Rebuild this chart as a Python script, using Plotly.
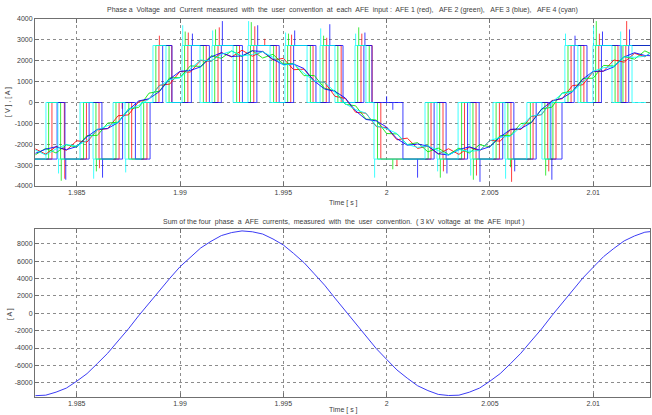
import plotly.graph_objects as go

T0 = 1.98  # all time lists below are milliseconds after 1.98 s

# ---------------- voltage switching instants (ms after 1.98 s) ----------------
afe1_edges_ms = [3.80, 4.40, 5.47, 6.08, 7.05, 7.66, 8.40, 8.98, 9.60, 10.38, 11.27, 11.84,
                 12.88, 13.57, 14.66, 15.36, 16.44, 17.08, 17.80, 18.76, 19.30, 19.72, 22.15,
                 22.73, 23.77, 24.33, 25.46, 26.02, 27.09, 27.80, 28.20, 28.93, 29.55, 30.27,
                 31.20, 31.58]
afe2_edges_ms = [3.64, 4.22, 5.33, 5.93, 6.90, 7.52, 8.24, 8.83, 9.47, 10.22, 11.13, 11.68,
                 12.74, 13.41, 14.53, 15.21, 16.31, 16.92, 17.64, 18.60, 19.16, 19.56, 22.01,
                 22.57, 23.63, 24.18, 25.30, 25.87, 26.96, 27.66, 28.05, 28.78, 29.40, 30.12,
                 31.06, 31.44]
afe3_edges_ms = [4.05, 4.43, 5.60, 6.22, 7.22, 7.84, 8.55, 9.16, 9.61, 10.55, 11.42, 12.00,
                 13.02, 13.72, 14.80, 15.50, 16.58, 17.22, 17.89, 18.90, 19.29, 20.79, 22.30,
                 22.88, 23.92, 24.48, 25.62, 26.16, 27.24, 27.95, 28.49, 29.08, 29.70, 30.40,
                 31.35, 31.72]
afe4_edges_ms = [3.51, 4.09, 5.16, 5.79, 6.76, 7.34, 8.11, 8.69, 9.32, 10.10, 10.97, 11.55,
                 12.57, 13.29, 14.36, 15.08, 16.15, 16.78, 17.50, 18.47, 19.00, 19.39, 21.86,
                 22.44, 23.46, 24.04, 25.15, 25.73, 26.79, 27.52, 27.91, 28.63, 29.26, 29.99,
                 30.91, 31.30, 31.88]

V_POS = 2730
V_NEG = -2710
voltage_start_level = V_NEG
level_after_edge = [0, V_NEG, 0, V_NEG, 0, V_NEG, 0, V_POS, 0, V_POS, 0, V_POS, 0, V_POS,
                    0, V_POS, 0, V_POS, 0, V_POS, 0, V_NEG, 0, V_NEG, 0, V_NEG, 0, V_NEG,
                    0, V_NEG, 0, V_POS, 0, V_POS, 0, V_POS, 0]

# switching spikes (ms, peak value)
afe1_spike_ms = [4.42, 6.10, 7.20, 9.00, 10.40, 11.90, 13.62, 14.10, 15.40, 17.10, 18.80,
                 20.50, 22.75, 24.35, 26.05, 27.85, 30.30, 31.62]
afe1_spike_v = [-3650, -3150, -300, 3200, 3350, 3600, 3650, 3050, 3250, 3100, 3300,
                -3050, -3300, -3500, -3800, -3300, 3300, 3900]
afe2_spike_ms = [4.25, 5.95, 10.25, 11.72, 13.45, 15.25, 16.95, 18.65, 20.30, 22.60, 24.20,
                 26.00, 27.70, 30.15]
afe2_spike_v = [-3750, -3300, 3400, 3500, 3850, 3300, 3200, 3600, -3200, -3600, -3700,
                -3100, -3500, 3900]
afe3_spike_ms = [4.47, 6.25, 10.60, 12.05, 13.76, 15.55, 17.25, 18.95, 20.00, 20.30, 21.50,
                 22.92, 24.52, 26.20, 28.00, 29.12, 30.45, 31.76]
afe3_spike_v = [-3700, -3600, 3300, 3900, 3700, 3450, 3750, 3350, 300, -350, -3600,
                -3400, -3800, -3300, -3700, 3200, 3400, 3500]
afe4_spike_ms = [4.12, 5.82, 7.37, 10.13, 11.58, 13.32, 15.11, 16.81, 18.50, 19.42, 22.47,
                 24.07, 25.76, 28.66, 30.02, 31.33]
afe4_spike_v = [-3400, -3650, -3350, 3700, 3450, 3900, 3350, 3550, 3300, -3600, -3300,
                -3500, -3650, 3300, 3650, 3400]

# ---------------- phase currents (sampled every 0.5 ms) ----------------
current_t_ms = [3.0, 3.5, 4.0, 4.5, 5.0, 5.5, 6.0, 6.5, 7.0, 7.5, 8.0, 8.5, 9.0, 9.5, 10.0,
                10.5, 11.0, 11.5, 12.0, 12.5, 13.0, 13.5, 14.0, 14.5, 15.0, 15.5, 16.0, 16.5,
                17.0, 17.5, 18.0, 18.5, 19.0, 19.5, 20.0, 20.5, 21.0, 21.5, 22.0, 22.5, 23.0,
                23.5, 24.0, 24.5, 25.0, 25.5, 26.0, 26.5, 27.0, 27.5, 28.0, 28.5, 29.0, 29.5,
                30.0, 30.5, 31.0, 31.5, 32.0, 32.5, 33.0]
afe1_current = [-2224, -2476, -2111, -2289, -1834, -1892, -1306, -1254, -635, -595, 45, 158,
                823, 881, 1485, 1456, 2017, 1961, 2395, 2183, 2504, 2216, 2451, 2029, 2114,
                1572, 1596, 1014, 965, 295, 195, -468, -513, -1151, -1205, -1786, -1707,
                -2201, -2085, -2473, -2214, -2486, -2141, -2319, -1814, -1852, -1296, -1294,
                -675, -585, 95, 178, 813, 851, 1475, 1496, 2037, 1931, 2355, 2193, 2524]
afe2_current = [-2504, -2196, -2421, -2029, -2134, -1582, -1576, -984, -945, -315, -235, 448,
                543, 1181, 1195, 1756, 1727, 2241, 2115, 2473, 2204, 2486, 2131, 2309, 1844,
                1872, 1286, 1294, 675, 565, -85, -158, -793, -841, -1485, -1506, -2017, -1921,
                -2365, -2183, -2494, -2186, -2421, -2019, -2124, -1582, -1576, -1004, -975,
                -315, -225, 458, 543, 1151, 1165, 1776, 1747, 2201, 2075, 2473, 2244]
afe3_current = [-2434, -2236, -2121, -2259, -2114, -1642, -1286, -1244, -965, -365, 75, 178,
                523, 1121, 1495, 1536, 1707, 2181, 2385, 2203, 2234, 2476, 2441, 2069, 1814,
                1842, 1626, 1024, 645, 535, 215, -398, -813, -881, -1175, -1736, -2047, -1991,
                -2085, -2453, -2514, -2256, -2121, -2279, -2114, -1652, -1286, -1254, -965,
                -325, 65, 208, 513, 1121, 1495, 1506, 1707, 2181, 2385, 2253, 2234]
afe4_current = [-2284, -2516, -2221, -2009, -2084, -1822, -1306, -1104, -965, -335, -135, 158,
                793, 1091, 1185, 1596, 2037, 1981, 2305, 2463, 2234, 2296, 2431, 2169, 1794,
                1852, 1406, 1014, 965, 515, -65, -338, -513, -1121, -1255, -1486, -2007, -2151,
                -2075, -2303, -2524, -2256, -2341, -2299, -1824, -1672, -1616, -1164, -655,
                -565, 15, 428, 523, 961, 1495, 1666, 1727, 2191, 2165, 2213, 2514]

sum_current = [-9495, -9440, -9090, -8620, -7830, -6950, -5790, -4600, -3190, -1800, -270,
               1170, 2680, 4020, 5370, 6480, 7530, 8300, 8960, 9310, 9500, 9400, 9140, 8570,
               7880, 6900, 5850, 4550, 3240, 1750, 320, -1210, -2620, -4070, -5310, -6530,
               -7480, -8350, -8910, -9350, -9480, -9440, -9100, -8620, -7830, -6950, -5800,
               -4600, -3190, -1810, -270, 1210, 2630, 4070, 5310, 6530, 7480, 8350, 8920,
               9350, 9480]

x_tick_vals = [1.985, 1.99, 1.995, 2.0, 2.005, 2.01]
x_tick_text = ["1.985", "1.99", "1.995", "2", "2.005", "2.01"]
y1_tick_vals = [-4000, -3000, -2000, -1000, 0, 1000, 2000, 3000, 4000]
y1_tick_text = ["-4000", "-3000", "-2000", "-1000", "0", "1000", "2000", "3000", "4000"]
y2_tick_vals = [-8000, -6000, -4000, -2000, 0, 2000, 4000, 6000, 8000]
y2_tick_text = ["-8000", "-6000", "-4000", "-2000", "0", "2000", "4000", "6000", "8000"]

afe_colors = ["rgb(255,0,0)", "rgb(0,230,0)", "rgb(0,0,255)", "rgb(0,255,255)"]


def sec(ms):
    return T0 + ms / 1000.0


def level_at(edges, t):
    lv = voltage_start_level
    for e, l in zip(edges, level_after_edge):
        if e <= t:
            lv = l
    return lv


fig = go.Figure()

all_edges = [afe1_edges_ms, afe2_edges_ms, afe3_edges_ms, afe4_edges_ms]
all_spk_t = [afe1_spike_ms, afe2_spike_ms, afe3_spike_ms, afe4_spike_ms]
all_spk_v = [afe1_spike_v, afe2_spike_v, afe3_spike_v, afe4_spike_v]
all_cur = [afe1_current, afe2_current, afe3_current, afe4_current]

for edges, st, sv, col in zip(all_edges, all_spk_t, all_spk_v, afe_colors):
    xs = [sec(2.9)]
    ys = [voltage_start_level]
    for e, lv in zip(edges, level_after_edge):
        xs.append(sec(e))
        ys.append(lv)
    xs.append(sec(33.0))
    ys.append(ys[-1])
    fig.add_trace(go.Scatter(x=xs, y=ys, mode="lines", line=dict(color=col, width=1, shape="hv"),
                             opacity=0.75, showlegend=False, hoverinfo="skip", xaxis="x", yaxis="y"))
    sx, sy = [], []
    for t, v in zip(st, sv):
        sx += [sec(t), sec(t), None]
        sy += [level_at(edges, t), v, None]
    fig.add_trace(go.Scatter(x=sx, y=sy, mode="lines", line=dict(color=col, width=1),
                             opacity=0.75, showlegend=False, hoverinfo="skip", xaxis="x", yaxis="y"))

for cur, col in zip(all_cur, afe_colors):
    fig.add_trace(go.Scatter(x=[sec(t) for t in current_t_ms], y=cur, mode="lines",
                             line=dict(color=col, width=1), opacity=0.85, showlegend=False,
                             hoverinfo="skip", xaxis="x", yaxis="y"))

fig.add_trace(go.Scatter(x=[sec(t) for t in current_t_ms], y=sum_current, mode="lines",
                         line=dict(color="rgb(60,60,245)", width=1), showlegend=False,
                         hoverinfo="skip", xaxis="x2", yaxis="y2"))

W, H = 652, 415
FONT = "Liberation Sans, Arial, sans-serif"
TXT = "#404040"
xl, xr = 35, 650

axis_common = dict(showgrid=True, gridcolor="#8c8c8c", griddash="dot", gridwidth=1,
                   showline=True, linecolor="#707070", linewidth=1, mirror="ticks",
                   ticks="inside", ticklen=4, tickcolor="#707070", zeroline=False,
                   tickfont=dict(family=FONT, size=7, color=TXT), automargin=False)

fig.update_layout(
    width=W, height=H, margin=dict(l=0, r=0, t=0, b=0),
    paper_bgcolor="white", plot_bgcolor="white", showlegend=False,
    xaxis=dict(domain=[xl / W, xr / W], range=[1.98298, 2.01275], tickmode="array",
               tickvals=x_tick_vals, ticktext=x_tick_text, anchor="y", **axis_common),
    yaxis=dict(domain=[1 - 186 / H, 1 - 19 / H], range=[-4000, 4000], tickmode="array",
               tickvals=y1_tick_vals, ticktext=y1_tick_text, anchor="x", **axis_common),
    xaxis2=dict(domain=[xl / W, xr / W], range=[1.98298, 2.01275], tickmode="array",
                tickvals=x_tick_vals, ticktext=x_tick_text, anchor="y2", **axis_common),
    yaxis2=dict(domain=[1 - 397 / H, 1 - 229 / H], range=[-9650, 9720], tickmode="array",
                tickvals=y2_tick_vals, ticktext=y2_tick_text, anchor="x2", **axis_common),
)


def px_ann(text, x, y, angle=0):
    fig.add_annotation(text=text, x=x / W, y=1 - y / H, xref="paper", yref="paper",
                       showarrow=False, textangle=angle, xanchor="center", yanchor="middle",
                       font=dict(family=FONT, size=7, color=TXT))


px_ann("Phase a  Voltage  and  Current  measured  with  the  user  convention  at  each  AFE  input :  "
       "AFE 1 (red),   AFE 2 (green),   AFE 3 (blue),   AFE 4 (cyan)", 342, 10)
px_ann("Time [ s ]", 344, 203)
px_ann("[ V ] , [ A ]", 8, 102, -90)
px_ann("Sum of the four  phase  a  AFE  currents,  measured  with  the  user  convention.  "
       "( 3 kV  voltage  at  the  AFE  input )", 344, 222)
px_ann("Time [ s ]", 344, 410)
px_ann("[ A ]", 10, 314, -90)

fig.write_html("out.html", config={"displayModeBar": False},
               post_script="document.body.style.margin='0px';document.body.style.overflow='hidden';")
